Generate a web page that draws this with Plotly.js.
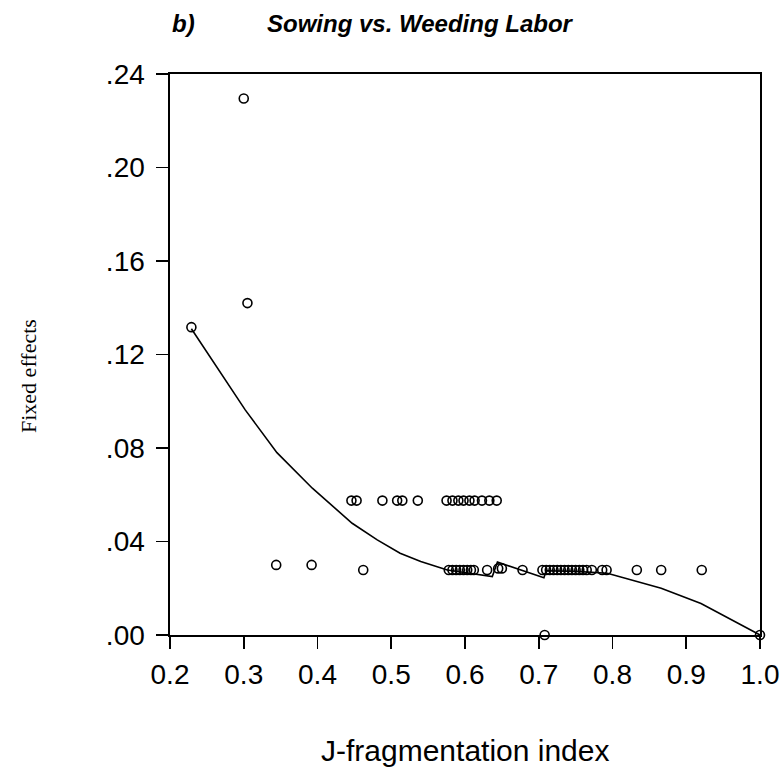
<!DOCTYPE html>
<html>
<head>
<meta charset="utf-8">
<script src="https://cdn.plot.ly/plotly-3.0.1.min.js"></script>
<style>html,body{margin:0;padding:0;background:#fff;}#chart{width:784px;height:774px;}</style>
</head>
<body>
<div id="chart"></div>
<script>
// Scatter points: J-fragmentation index vs fixed effects
const pointsX = [
  0.229, 0.300, 0.305,
  0.344, 0.392, 0.462,
  0.708, 1.000,
  0.446, 0.453, 0.488, 0.508, 0.515, 0.536,
  0.575, 0.583, 0.591, 0.598, 0.606, 0.613, 0.623, 0.633, 0.643,
  0.578, 0.583, 0.588, 0.593, 0.598, 0.603, 0.608, 0.612, 0.630, 0.645, 0.650, 0.678,
  0.705, 0.710, 0.715, 0.720, 0.725, 0.730, 0.735, 0.740, 0.745, 0.750, 0.755, 0.760, 0.765,
  0.772, 0.786, 0.792, 0.833, 0.866, 0.921
];
const pointsY = [
  0.1317, 0.2295, 0.1420,
  0.0300, 0.0300, 0.0278,
  0.0000, 0.0000,
  0.0575, 0.0575, 0.0575, 0.0575, 0.0575, 0.0575,
  0.0575, 0.0575, 0.0575, 0.0575, 0.0575, 0.0575, 0.0575, 0.0575, 0.0575,
  0.0278, 0.0278, 0.0278, 0.0278, 0.0278, 0.0278, 0.0278, 0.0278, 0.0278, 0.0285, 0.0285, 0.0278,
  0.0278, 0.0278, 0.0278, 0.0278, 0.0278, 0.0278, 0.0278, 0.0278, 0.0278, 0.0278, 0.0278, 0.0278, 0.0278,
  0.0278, 0.0278, 0.0278, 0.0278, 0.0278, 0.0278
];
// Smoothed (lowess) fit line, in drawing order
const fitX = [0.229, 0.302, 0.345, 0.393, 0.447, 0.481, 0.512, 0.540, 0.576, 0.600, 0.637, 0.644, 0.707, 0.710, 0.750, 0.793, 0.866, 0.920, 1.000];
const fitY = [0.131, 0.0963, 0.078, 0.0628, 0.0478, 0.0407, 0.0350, 0.0314, 0.0278, 0.0268, 0.0250, 0.0312, 0.0245, 0.0275, 0.0272, 0.0264, 0.0200, 0.0135, 0.0000];
// Tick labels
const xTickVals = [0.2, 0.3, 0.4, 0.5, 0.6, 0.7, 0.8, 0.9, 1.0];
const xTickText = ["0.2", "0.3", "0.4", "0.5", "0.6", "0.7", "0.8", "0.9", "1.0"];
const yTickVals = [0, 0.04, 0.08, 0.12, 0.16, 0.20, 0.24];
const yTickText = [".00", ".04", ".08", ".12", ".16", ".20", ".24"];

const sans = 'Arial, "Liberation Sans", sans-serif';
const serif = '"Times New Roman", "Liberation Serif", serif';

const traces = [
  {
    x: fitX, y: fitY, type: 'scatter', mode: 'lines',
    line: {color: '#000', width: 1.6}, hoverinfo: 'skip', cliponaxis: false
  },
  {
    x: pointsX, y: pointsY, type: 'scatter', mode: 'markers',
    marker: {symbol: 'circle-open', size: 9, color: '#000', line: {color: '#000', width: 1.6}},
    cliponaxis: false
  }
];

const layout = {
  width: 784, height: 774,
  margin: {l: 170, r: 24, t: 74, b: 139, pad: 0},
  paper_bgcolor: '#fff', plot_bgcolor: '#fff',
  showlegend: false,
  font: {family: sans, color: '#000'},
  xaxis: {
    range: [0.2, 1.0], tickvals: xTickVals, ticktext: xTickText,
    showgrid: false, zeroline: false,
    showline: true, mirror: true, linecolor: '#000', linewidth: 1.6,
    ticks: 'outside', ticklen: 12, tickwidth: 1.6, tickcolor: '#000',
    tickfont: {family: sans, size: 28, color: '#000'}, ticklabelstandoff: 2
  },
  yaxis: {
    range: [0, 0.24], tickvals: yTickVals, ticktext: yTickText,
    showgrid: false, zeroline: false,
    showline: true, mirror: true, linecolor: '#000', linewidth: 1.6,
    ticks: 'outside', ticklen: 12, tickwidth: 1.6, tickcolor: '#000',
    tickfont: {family: sans, size: 28, color: '#000'}, ticklabelstandoff: 6
  },
  annotations: [
    {text: '<b><i>b)</i></b>', xref: 'paper', yref: 'paper', x: (170 - 170) / 590, y: (635 - 23) / 561,
     xanchor: 'left', yanchor: 'middle', showarrow: false, font: {family: sans, size: 24, color: '#000'}},
    {text: '<b><i>Sowing vs. Weeding Labor</i></b>', xref: 'paper', yref: 'paper', x: (265 - 170) / 590, y: (635 - 23) / 561,
     xanchor: 'left', yanchor: 'middle', showarrow: false, font: {family: sans, size: 24, color: '#000'}},
    {text: 'J-fragmentation index', xref: 'paper', yref: 'paper', x: 0.5, y: (635 - 750) / 561,
     xanchor: 'center', yanchor: 'middle', showarrow: false, font: {family: sans, size: 30, color: '#000'}},
    {text: 'Fixed effects', xref: 'paper', yref: 'paper', x: (28 - 170) / 590, y: (635 - 376) / 561,
     xanchor: 'center', yanchor: 'middle', textangle: -90, showarrow: false, font: {family: serif, size: 22, color: '#000'}}
  ]
};

Plotly.newPlot('chart', traces, layout, {staticPlot: true, displayModeBar: false});
</script>
</body>
</html>
